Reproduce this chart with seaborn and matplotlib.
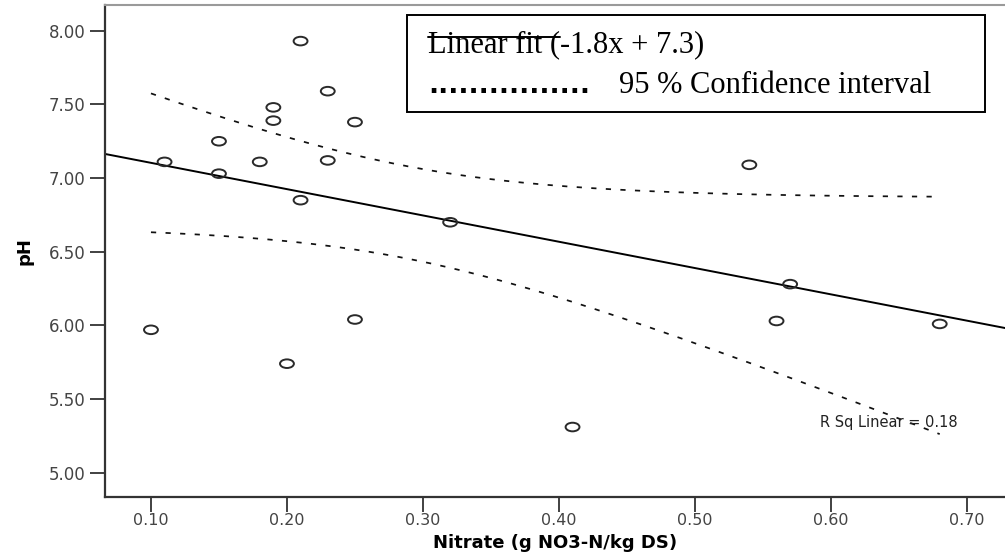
import numpy as np
import pandas as pd
import matplotlib
matplotlib.use("Agg")
import matplotlib.pyplot as plt
import seaborn as sns
from matplotlib.path import Path
from matplotlib.transforms import Affine2D
from matplotlib.patches import Rectangle

# ---------------- data ----------------
nitrate = [0.10, 0.11, 0.15, 0.15, 0.18, 0.19, 0.19, 0.20, 0.21, 0.21,
           0.23, 0.23, 0.25, 0.25, 0.32, 0.41, 0.54, 0.56, 0.57, 0.68]
ph = [5.97, 7.11, 7.25, 7.03, 7.11, 7.48, 7.39, 5.74, 7.93, 6.85,
      7.59, 7.12, 7.38, 6.04, 6.70, 5.31, 7.09, 6.03, 6.28, 6.01]
x_ticks = [0.10, 0.20, 0.30, 0.40, 0.50, 0.60, 0.70]
y_ticks = [5.00, 5.50, 6.00, 6.50, 7.00, 7.50, 8.00]
x_label = "Nitrate (g NO3-N/kg DS)"
y_label = "pH"
fit_label = "Linear fit (-1.8x + 7.3)"
fit_strike_part = "Linear fit ("
ci_dots = "................"
ci_label = "95 % Confidence interval"
r2_label = "R Sq Linear = 0.18"

sns.set_theme(style="white")
plt.rcParams["font.family"] = ["DejaVu Sans"]

df = pd.DataFrame({"nitrate": nitrate, "ph": ph})

W, H = 1005, 552
fig = plt.figure(figsize=(W / 100, H / 100), dpi=100)
ax = fig.add_axes([105 / W, 55 / H, 900 / W, 492 / H])
xlim = (0.0662, 0.728)
ylim = (4.835, 8.175)
ax.set_xlim(*xlim)
ax.set_ylim(*ylim)

# regression line across the full axis
sns.regplot(data=df, x="nitrate", y="ph", ax=ax, scatter=False, ci=None,
            truncate=False, line_kws=dict(color="black", lw=1.4))

# 95% confidence interval of the mean (analytical)
xa = np.asarray(nitrate, float)
ya = np.asarray(ph, float)
n = len(xa)
b1, b0 = np.polyfit(xa, ya, 1)
resid = ya - (b0 + b1 * xa)
s = np.sqrt(np.sum(resid ** 2) / (n - 2))
try:
    from scipy import stats
    tval = stats.t.ppf(0.975, n - 2)
except Exception:
    tval = 2.101
xg = np.linspace(xa.min(), xa.max(), 150)
se = s * np.sqrt(1 / n + (xg - xa.mean()) ** 2 / np.sum((xa - xa.mean()) ** 2))
yfit = b0 + b1 * xg
dash = (0, (3.0, 5.4))
sns.lineplot(x=xg, y=yfit + tval * se, ax=ax, color="#111111", lw=1.25,
             linestyle=dash, estimator=None)
sns.lineplot(x=xg, y=yfit - tval * se, ax=ax, color="#111111", lw=1.25,
             linestyle=dash, estimator=None)

# scatter points (open, slightly flattened circles)
ellipse = Path.unit_circle().transformed(Affine2D().scale(1.0, 0.62))
sns.scatterplot(data=df, x="nitrate", y="ph", ax=ax, marker=ellipse, s=100,
                facecolors="none", edgecolor="#2a2a2a", linewidth=1.4, zorder=4)

ax.set_xlim(*xlim)
ax.set_ylim(*ylim)

# axes styling
ax.set_xticks(x_ticks)
ax.set_xticklabels([f"{v:.2f}" for v in x_ticks])
ax.set_yticks(y_ticks)
ax.set_yticklabels([f"{v:.2f}" for v in y_ticks])
ax.tick_params(axis="both", direction="out", length=11, width=1.3,
               color="#333333", labelsize=12, labelcolor="#444444", pad=3,
               bottom=True, left=True)
ax.tick_params(axis="x", pad=0.5, labelsize=11.5)
for side in ["left", "bottom"]:
    ax.spines[side].set_color("#333333")
    ax.spines[side].set_linewidth(1.6)
ax.spines["top"].set_color("#9a9a9a")
ax.spines["top"].set_linewidth(1.5)
ax.spines["right"].set_visible(False)
ax.grid(False)

ax.set_xlabel(x_label, fontsize=13, fontweight="bold", color="black")
ax.xaxis.set_label_coords(0.5, -0.0745)
ax.set_ylabel(y_label, fontsize=13, fontweight="bold", color="black")
ax.yaxis.set_label_coords(-0.079, 0.5)

# R squared annotation
ax.text(0.794, 0.152, r2_label, transform=ax.transAxes, fontsize=10.5,
        ha="left", va="center", color="#222222")

# legend box
ax.add_patch(Rectangle((0.3356, 0.7825), 0.6422, 0.1972, transform=ax.transAxes,
                       facecolor="white", edgecolor="black", lw=1.4, zorder=6))
serif = ["Liberation Serif", "DejaVu Serif"]
tx0, ty1, ty2 = 0.3589, 0.9045, 0.8211
ax.text(tx0, ty1, fit_label, transform=ax.transAxes, family=serif,
        fontsize=22, ha="left", va="baseline", color="black", zorder=7)
# measure the extent of "Linear fit (" for the legend line sample
fig.canvas.draw()
renderer = fig.canvas.get_renderer()
tmp = ax.text(tx0, ty1, fit_strike_part, transform=ax.transAxes, family=serif,
              fontsize=22, ha="left", va="baseline")
bb = tmp.get_window_extent(renderer)
tmp.remove()
x_end = ax.transAxes.inverted().transform((bb.x1, bb.y1))[0]
ax.plot([tx0, x_end], [0.935, 0.935], transform=ax.transAxes,
        color="black", lw=1.4, zorder=8)
ax.text(tx0, ty2, ci_dots, transform=ax.transAxes, family=["DejaVu Sans"],
        fontsize=19, fontweight="bold", ha="left", va="baseline", color="black", zorder=7)
ax.text(0.5711, ty2, ci_label, transform=ax.transAxes, family=serif,
        fontsize=22, ha="left", va="baseline", color="black", zorder=7)

fig.savefig("out.png", dpi=100, facecolor="white")
